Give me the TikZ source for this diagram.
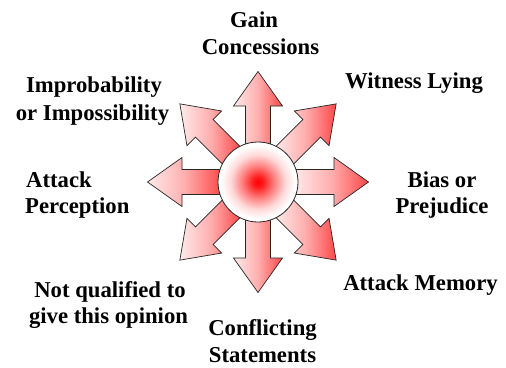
\documentclass[tikz,border=0pt]{standalone}
\usepackage{fontspec}
\setmainfont{Liberation Serif}
\usetikzlibrary{calc}
\pgfdeclareradialshading{hubshade}{\pgfpoint{0bp}{0bp}}{color(0bp)=(red); color(3bp)=(red!90!white); color(10bp)=(red!50!white); color(17bp)=(red!15!white); color(23bp)=(white); color(50bp)=(white)}
\pgfdeclarehorizontalshading{armshade}{100bp}{color(0bp)=(white); color(25bp)=(red!8!white); color(50bp)=(red!32!white); color(75bp)=(red!72!white); color(92bp)=(red); color(100bp)=(red)}
\tikzset{
  lbl/.style={font=\bfseries\fontsize{22.7}{27}\selectfont, inner sep=0pt},
  bigarrow/.style={draw=black!85, line width=0.7pt, shading=armshade, line join=miter},
  hubstyle/.style={circle, draw=black!85, line width=0.8pt, shading=hubshade, minimum size=80pt, inner sep=0pt}
}
\newcommand\spoke[1]{%
  \path[bigarrow] ($(c)+(#1:36)+(#1+90:12.5)$) -- ($(c)+(#1:76)+(#1+90:12.5)$)
    -- ($(c)+(#1:76)+(#1+90:24.5)$) -- ($(c)+(#1:110.5)$)
    -- ($(c)+(#1:76)+(#1-90:24.5)$) -- ($(c)+(#1:76)+(#1-90:12.5)$)
    -- ($(c)+(#1:36)+(#1-90:12.5)$) -- cycle;}
\begin{document}
\begin{tikzpicture}[x=1pt,y=-1pt]
\path[use as bounding box] (0,0) rectangle (506,367);
\coordinate (c) at (258,182);
\foreach \a in {0,45,...,315} {\spoke{\a}}
\node[hubstyle] (hub) at (c) {};
% labels
\node[lbl, anchor=base] (gain1) at (254,27) {Gain};
\node[lbl, anchor=base] (gain2) at (260.5,54) {Concessions};
\node[lbl, anchor=base] (wit) at (414,88) {Witness Lying};
\node[lbl, anchor=base] (imp1) at (94,92) {Improbability};
\node[lbl, anchor=base] (imp2) at (92.5,120) {or Impossibility};
\node[lbl, anchor=base] (bias1) at (442,187) {Bias or};
\node[lbl, anchor=base] (bias2) at (442,213) {Prejudice};
\node[lbl, anchor=base west] (per1) at (26,187) {Attack};
\node[lbl, anchor=base west] (per2) at (25,213) {Perception};
\node[lbl, anchor=base] (mem) at (420.5,290) {Attack Memory};
\node[lbl, anchor=base] (nq1) at (110,297) {Not qualified to};
\node[lbl, anchor=base] (nq2) at (108.5,323) {give this opinion};
\node[lbl, anchor=base] (con1) at (262.5,335) {Conflicting};
\node[lbl, anchor=base] (con2) at (262.5,362) {Statements};
\end{tikzpicture}
\end{document}
